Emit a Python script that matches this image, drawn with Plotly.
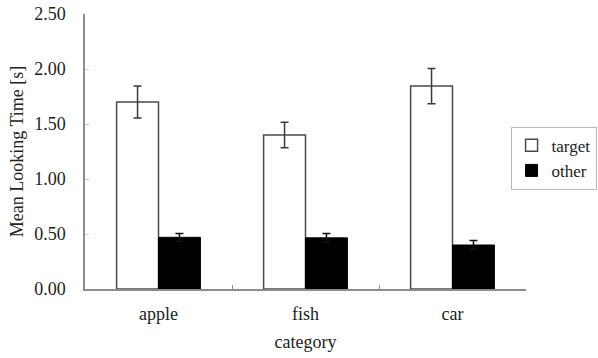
import plotly.graph_objects as go

categories = ["apple", "fish", "car"]
target_vals = [1.70, 1.40, 1.845]
target_err = [0.145, 0.115, 0.16]
other_vals = [0.47, 0.465, 0.40]
other_err = [0.035, 0.04, 0.04]
y_ticks = [0.0, 0.5, 1.0, 1.5, 2.0, 2.5]

FONT = "Liberation Serif"
AXIS_GREY = "#8c8c8c"

fig = go.Figure()
fig.add_trace(go.Bar(
    name="target", x=categories, y=target_vals,
    marker=dict(color="white", line=dict(color="#4a4a4a", width=1.5)),
    error_y=dict(type="data", array=target_err, color="#3a3a3a", thickness=1.5, width=4),
))
fig.add_trace(go.Bar(
    name="other", x=categories, y=other_vals,
    marker=dict(color="black", line=dict(color="black", width=1)),
    error_y=dict(type="data", array=other_err, color="#111111", thickness=1.5, width=4),
))

fig.update_layout(
    width=598, height=358,
    margin=dict(l=85, r=72, t=14, b=69, autoexpand=False),
    paper_bgcolor="white", plot_bgcolor="white",
    font=dict(family=FONT, size=18, color="#222222"),
    barmode="group", bargap=0.43, bargroupgap=0,
    showlegend=True,
    legend=dict(
        x=1.16, xanchor="right", y=0.59, yanchor="top",
        bordercolor="#bbbbbb", borderwidth=1, bgcolor="white",
        font=dict(family=FONT, size=17, color="#222222"),
        itemwidth=30, tracegroupgap=0,
    ),
)
fig.update_xaxes(
    automargin=False,
    showline=True, linecolor=AXIS_GREY, linewidth=1.5,
    ticks="inside", tickson="boundaries", ticklen=4, tickcolor=AXIS_GREY,
    showgrid=False, zeroline=False,
    ticklabelstandoff=8,
    tickfont=dict(family=FONT, size=18),
    title=dict(text="category", standoff=12, font=dict(family=FONT, size=18)),
)
fig.update_yaxes(
    automargin=False,
    range=[0, 2.5], tickvals=y_ticks, tickformat=".2f",
    showline=True, linecolor=AXIS_GREY, linewidth=1.5,
    ticks="inside", ticklen=4, tickcolor="#cccccc",
    showgrid=False, zeroline=False,
    ticklabelstandoff=14,
    tickfont=dict(family=FONT, size=18),
    title=dict(text="Mean Looking Time [s]", standoff=6, font=dict(family=FONT, size=18)),
)

fig.write_html("out.html", config={"displayModeBar": False},
               post_script="document.body.style.margin='0';")
